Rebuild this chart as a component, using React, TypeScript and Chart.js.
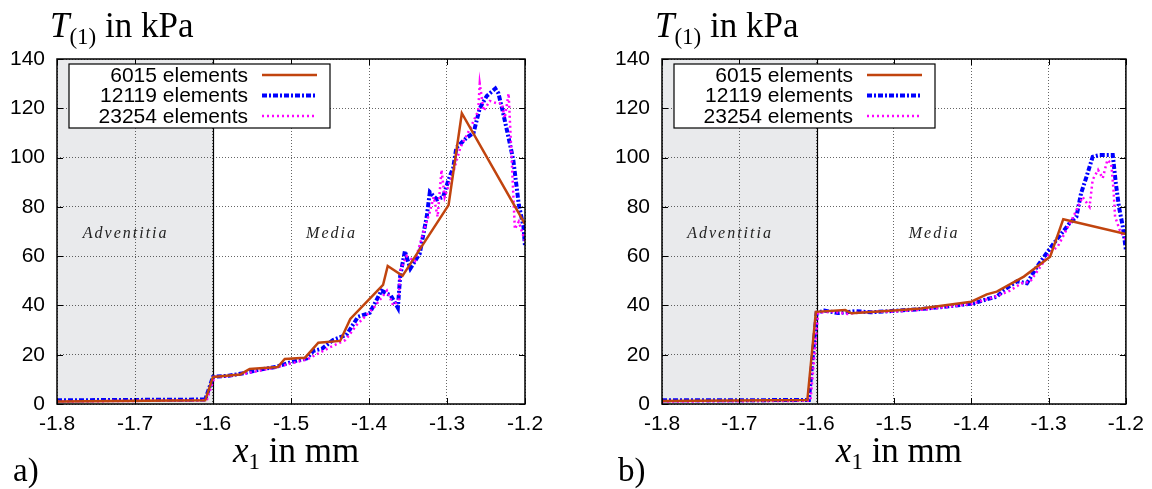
import React, { useEffect, useRef } from "react";
import { Chart, registerables } from "chart.js";

Chart.register(...registerables);

// ---------------- data ----------------
const xTicks = [-1.8, -1.7, -1.6, -1.5, -1.4, -1.3, -1.2];
const yTicks = [0, 20, 40, 60, 80, 100, 120, 140];
const seriesNames = ["6015 elements", "12119 elements", "23254 elements"];
const regionLabels = ["Adventitia", "Media"];
const regionLabelX = [-1.712, -1.448];
const regionLabelY = 69;
const layerBoundary = -1.6;
const panelLetters = ["a)", "b)"];

// panel a)
const aX6015 = [-1.8, -1.61, -1.6, -1.565, -1.553, -1.517, -1.508, -1.482, -1.465, -1.437, -1.424, -1.382, -1.376, -1.357, -1.298, -1.281, -1.2];
const aY6015 = [1, 1.5, 11, 12, 14.2, 15, 18.3, 18.8, 24.9, 25.6, 34.5, 48.3, 56, 52, 80.7, 118, 73];
const aX12119 = [-1.8, -1.61, -1.6, -1.58, -1.56, -1.54, -1.52, -1.5, -1.48, -1.471, -1.46, -1.446, -1.429, -1.414, -1.399, -1.384, -1.372, -1.363, -1.36, -1.354, -1.347, -1.335, -1.326, -1.322, -1.313, -1.305, -1.298, -1.292, -1.288, -1.275, -1.266, -1.258, -1.249, -1.238, -1.234, -1.228, -1.221, -1.215, -1.208, -1.202, -1.2];
const aY12119 = [1.5, 1.8, 11, 11.5, 12.5, 14, 15, 17, 18.5, 21.6, 22.5, 26, 28, 35.4, 37, 46, 44, 39, 52, 62, 55, 61, 76, 86, 83, 84, 91, 96, 104, 108, 110, 120, 125, 128, 126, 118, 108, 99, 81, 72, 64];
const aX23254 = [-1.8, -1.608, -1.598, -1.58, -1.56, -1.54, -1.52, -1.5, -1.48, -1.465, -1.45, -1.43, -1.416, -1.394, -1.377, -1.369, -1.362, -1.36, -1.352, -1.341, -1.33, -1.322, -1.317, -1.312, -1.307, -1.303, -1.292, -1.283, -1.27, -1.26, -1.258, -1.253, -1.245, -1.236, -1.23, -1.226, -1.221, -1.217, -1.213, -1.208, -1.2];
const aY23254 = [1, 1.5, 11, 11.3, 12.3, 13.5, 14.8, 16.5, 18, 20.5, 23, 26, 32, 39, 46, 40, 42, 54, 60, 58, 70, 78, 84, 76, 95, 84, 94, 104, 112, 119, 130, 119, 123, 122, 122, 116, 126, 99, 71, 74, 66];

// panel b)
const bX6015 = [-1.8, -1.612, -1.601, -1.563, -1.555, -1.5, -1.465, -1.4, -1.38, -1.367, -1.332, -1.298, -1.281, -1.2];
const bY6015 = [1.2, 1.6, 37.4, 38.1, 36.8, 37.9, 38.8, 41.5, 44.5, 45.6, 51.7, 59.8, 75, 69];
const bX12119 = [-1.8, -1.61, -1.6, -1.59, -1.572, -1.55, -1.53, -1.5, -1.47, -1.44, -1.42, -1.397, -1.379, -1.367, -1.358, -1.341, -1.328, -1.315, -1.298, -1.29, -1.273, -1.264, -1.258, -1.251, -1.243, -1.234, -1.217, -1.213, -1.209, -1.204, -1.2];
const bY12119 = [1.5, 1.6, 37, 37.9, 36.9, 37.7, 37.2, 37.8, 38.4, 39.3, 40, 40.8, 42.6, 43.5, 46.2, 49.8, 49, 55.7, 63.2, 66.5, 73.3, 76, 85.5, 92.2, 100.3, 101, 101, 89.5, 80, 72, 62.5];
const bX23254 = [-1.8, -1.608, -1.598, -1.58, -1.56, -1.54, -1.5, -1.46, -1.43, -1.4, -1.38, -1.365, -1.35, -1.335, -1.324, -1.31, -1.299, -1.288, -1.277, -1.268, -1.256, -1.247, -1.243, -1.236, -1.23, -1.224, -1.219, -1.216, -1.214, -1.208, -1.2];
const bY23254 = [1, 1.3, 37, 37.5, 36.5, 37.3, 37.5, 38.3, 39.5, 40.5, 42.5, 44, 46, 49, 49.6, 56, 61, 64, 70.6, 76, 84, 80, 91, 95, 91.6, 99, 97.6, 86.8, 76, 70.6, 66.5];

// ---------------- styles ----------------
const SANS = '"Liberation Sans", Arial, Helvetica, sans-serif';
const SERIF = '"Liberation Serif", "Times New Roman", serif';

const seriesStyles = [
  { color: "#c1440e", width: 2.5, dash: [] as number[], order: 0 },
  { color: "#0000ff", width: 4, dash: [5, 2, 2, 2], order: 2 },
  { color: "#ff00ff", width: 2.5, dash: [2, 3], order: 1 },
];

type Part = { t: string; italic?: boolean; sub?: boolean };
const yTitleParts: Part[] = [{ t: "T", italic: true }, { t: "(1)", sub: true }, { t: " in kPa" }];
const xTitleParts: Part[] = [{ t: "x", italic: true }, { t: "1", sub: true }, { t: " in mm" }];

function partFont(p: Part, size: number, subSize: number) {
  return `${p.italic ? "italic " : ""}${p.sub ? subSize : size}px ${SERIF}`;
}
function measureParts(ctx: CanvasRenderingContext2D, parts: Part[], size: number, subSize: number) {
  let w = 0;
  for (const p of parts) {
    ctx.font = partFont(p, size, subSize);
    w += ctx.measureText(p.t).width;
  }
  return w;
}
function drawParts(ctx: CanvasRenderingContext2D, parts: Part[], x: number, baseline: number, size: number, subSize: number, drop: number) {
  ctx.textAlign = "left";
  ctx.textBaseline = "alphabetic";
  ctx.fillStyle = "#000";
  let cx = x;
  for (const p of parts) {
    ctx.font = partFont(p, size, subSize);
    ctx.fillText(p.t, cx, baseline + (p.sub ? drop : 0));
    cx += ctx.measureText(p.t).width;
  }
}

function makeDecor(letter: string) {
  return {
    id: "decor",
    beforeDraw(chart: any) {
      const { ctx, chartArea: a, scales } = chart;
      const xb = scales.x.getPixelForValue(layerBoundary);
      ctx.save();
      ctx.fillStyle = "#fff";
      ctx.fillRect(0, 0, chart.width, chart.height);
      ctx.fillStyle = "#e9eaec";
      ctx.fillRect(a.left, a.top, xb - a.left, a.bottom - a.top);
      ctx.restore();
    },
    beforeDatasetsDraw(chart: any) {
      const { ctx, chartArea: a, scales } = chart;
      const xb = Math.round(scales.x.getPixelForValue(layerBoundary)) + 0.5;
      ctx.save();
      ctx.strokeStyle = "#000";
      ctx.lineWidth = 1.2;
      ctx.beginPath();
      ctx.moveTo(xb, a.top);
      ctx.lineTo(xb, a.bottom);
      ctx.stroke();
      ctx.restore();
    },
    afterDatasetsDraw(chart: any) {
      const { ctx, chartArea: a, scales } = chart;
      ctx.save();
      // frame
      ctx.strokeStyle = "#000";
      ctx.lineWidth = 1.5;
      ctx.setLineDash([]);
      ctx.strokeRect(a.left, a.top, a.right - a.left, a.bottom - a.top);
      // inner ticks
      ctx.lineWidth = 1;
      ctx.beginPath();
      for (const v of yTicks) {
        const py = Math.round(scales.y.getPixelForValue(v)) + 0.5;
        ctx.moveTo(a.left, py); ctx.lineTo(a.left + 6, py);
        ctx.moveTo(a.right, py); ctx.lineTo(a.right - 6, py);
      }
      for (const v of xTicks) {
        const px = Math.round(scales.x.getPixelForValue(v)) + 0.5;
        ctx.moveTo(px, a.bottom); ctx.lineTo(px, a.bottom - 6);
        ctx.moveTo(px, a.top); ctx.lineTo(px, a.top + 6);
      }
      ctx.stroke();

      // region labels
      ctx.fillStyle = "#222";
      ctx.font = `italic 16px ${SERIF}`;
      (ctx as any).letterSpacing = "2px";
      ctx.textAlign = "center";
      ctx.textBaseline = "middle";
      regionLabels.forEach((t, i) => {
        ctx.fillText(t, scales.x.getPixelForValue(regionLabelX[i]), scales.y.getPixelForValue(regionLabelY));
      });
      (ctx as any).letterSpacing = "0px";

      // legend
      const lx0 = a.left + 12, lx1 = a.left + 273, ly0 = a.top + 5, ly1 = a.top + 69;
      ctx.fillStyle = "#fff";
      ctx.fillRect(lx0, ly0, lx1 - lx0, ly1 - ly0);
      ctx.strokeStyle = "#000";
      ctx.lineWidth = 1.2;
      ctx.strokeRect(lx0, ly0, lx1 - lx0, ly1 - ly0);
      ctx.font = `21px ${SANS}`;
      ctx.textAlign = "right";
      ctx.textBaseline = "middle";
      seriesNames.forEach((name, i) => {
        const yy = a.top + 16 + i * 20.5;
        ctx.fillStyle = "#000";
        ctx.fillText(name, a.left + 191, yy + 1);
        const st = seriesStyles[i];
        ctx.strokeStyle = st.color;
        ctx.lineWidth = st.width;
        ctx.setLineDash(st.dash);
        ctx.beginPath();
        ctx.moveTo(a.left + 205, yy);
        ctx.lineTo(a.left + 260, yy);
        ctx.stroke();
        ctx.setLineDash([]);
      });

      // axis titles
      drawParts(ctx, yTitleParts, a.left - 7, 37, 35, 23, 7);
      const xw = measureParts(ctx, xTitleParts, 35, 23);
      drawParts(ctx, xTitleParts, (a.left + a.right) / 2 + 5 - xw / 2, 462, 35, 23, 7);
      // panel letter
      ctx.font = `33px ${SERIF}`;
      ctx.textAlign = "left";
      ctx.textBaseline = "alphabetic";
      ctx.fillStyle = "#000";
      ctx.fillText(letter, a.left - 44, 481);
      ctx.restore();
    },
  };
}

type PanelCfg = {
  letter: string;
  left: number;
  axisWidth: number;
  padRight: number;
  series: number[][][];
};

const panels: PanelCfg[] = [
  { letter: panelLetters[0], left: 0, axisWidth: 57, padRight: 51, series: [[aX6015, aY6015], [aX12119, aY12119], [aX23254, aY23254]] },
  { letter: panelLetters[1], left: 576, axisWidth: 86, padRight: 22, series: [[bX6015, bY6015], [bX12119, bY12119], [bX23254, bY23254]] },
];

function Panel({ cfg }: { cfg: PanelCfg }) {
  const ref = useRef<HTMLCanvasElement>(null);
  useEffect(() => {
    const datasets = cfg.series.map(([xs, ys], i) => ({
      label: seriesNames[i],
      data: xs.map((x, k) => ({ x, y: ys[k] })),
      borderColor: seriesStyles[i].color,
      borderWidth: seriesStyles[i].width,
      borderDash: seriesStyles[i].dash,
      pointRadius: 0,
      tension: 0,
      fill: false,
      order: seriesStyles[i].order,
    }));
    const chart = new Chart(ref.current!, {
      type: "line",
      data: { datasets },
      plugins: [makeDecor(cfg.letter)],
      options: {
        responsive: false,
        animation: false,
        devicePixelRatio: 1,
        layout: { padding: { left: 0, top: 59, right: cfg.padRight, bottom: 25 } },
        plugins: { legend: { display: false }, tooltip: { enabled: false } },
        scales: {
          x: {
            type: "linear",
            min: -1.8,
            max: -1.2,
            afterBuildTicks: (s: any) => { s.ticks = xTicks.map((v) => ({ value: v })); },
            afterFit: (s: any) => { s.height = 60; },
            ticks: {
              callback: (v: any) => Number(v).toFixed(1),
              font: { family: SANS, size: 21 },
              color: "#000",
              padding: 8,
              maxRotation: 0,
            },
            grid: { color: "rgba(0,0,0,0.6)", lineWidth: 1, drawTicks: false },
            border: { display: false, dash: [1, 2] },
          },
          y: {
            type: "linear",
            min: 0,
            max: 140,
            afterBuildTicks: (s: any) => { s.ticks = yTicks.map((v) => ({ value: v })); },
            afterFit: (s: any) => { s.width = cfg.axisWidth; },
            ticks: {
              callback: (v: any) => String(v),
              font: { family: SANS, size: 21 },
              color: "#000",
              padding: 12,
            },
            grid: { color: "rgba(0,0,0,0.6)", lineWidth: 1, drawTicks: false },
            border: { display: false, dash: [1, 2] },
          },
        },
      } as any,
    });
    return () => chart.destroy();
  }, [cfg]);
  return (
    <canvas
      ref={ref}
      width={576}
      height={489}
      style={{ position: "absolute", left: cfg.left, top: 0, width: 576, height: 489, display: "block" }}
    />
  );
}

export default function App() {
  return (
    <div style={{ position: "absolute", left: 0, top: 0, width: 1152, height: 489, background: "#fff", overflow: "hidden" }}>
      {panels.map((p) => (
        <Panel key={p.letter} cfg={p} />
      ))}
    </div>
  );
}
